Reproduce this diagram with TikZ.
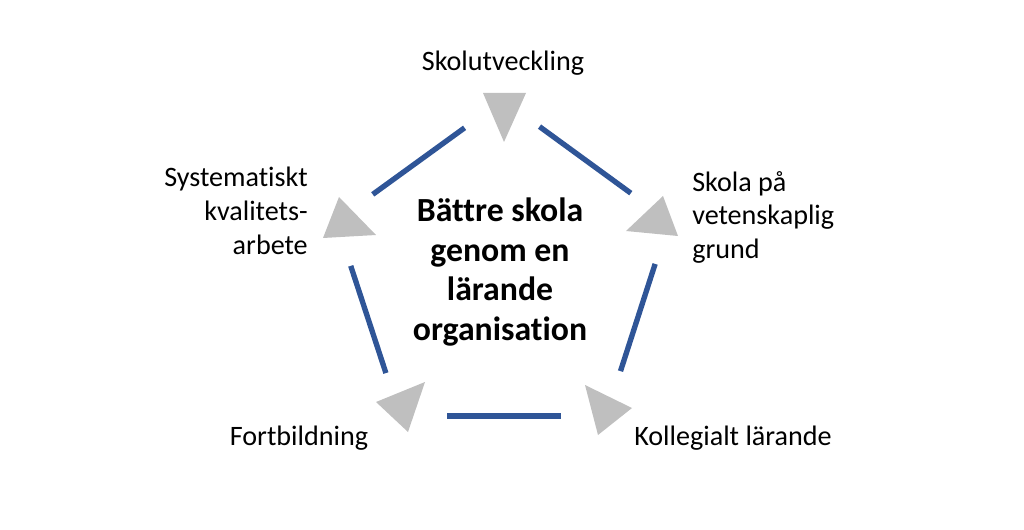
\documentclass[tikz,border=0pt]{standalone}
\usepackage{fontspec}
\setmainfont[Ligatures=NoCommon]{Carlito}
\usetikzlibrary{calc}
\definecolor{sideblue}{HTML}{2F5597}
\definecolor{tipgray}{HTML}{BFBFBF}
\tikzset{
  side/.style={draw=sideblue,line width=3.8pt},
  tip/.style={fill=tipgray},
  stage/.style={inner sep=0pt,font=\fontsize{20}{24}\selectfont},
  core/.style={inner sep=0pt,align=center,font=\bfseries\fontsize{24}{28}\selectfont}
}
\begin{document}
\begin{tikzpicture}[x=0.025cm,y=-0.025cm]
      \useasboundingbox (0,0) rectangle (1024,530);
      \begin{scope}[shift={(0,0)}]
        % corners of the pentagon
        \coordinate (v1) at (503,100);
        \coordinate (v2) at (669,221);
        \coordinate (v3) at (606,416);
        \coordinate (v4) at (400,416);
        \coordinate (v5) at (336,221);
        \foreach \a/\b in {v5/v1,v1/v2,v2/v3,v3/v4,v4/v5}{
            \draw[side]($(\a)!0.22!(\b)$)--($(\a)!0.77!(\b)$);
          }
        % grey triangles at the corners
        \foreach \ax/\ay/\bx/\by/\cx/\cy in {
          483/93/526/93/504/142,
          663/196/678/236/626/231,
          585/385/598/435/632/408,
          425/382/408/432/376/402,
          323/238/339/197/376/235
          }{
            \fill[tip](\ax,\ay)--(\bx,\by)--(\cx,\cy)--cycle;
          }
        \node[core] (mid) at (500,272) {Bättre skola\\genom en\\lärande\\organisation};
        \node[stage,anchor=base] (top) at (503,71) {Skolutveckling};
        \node[stage,anchor=north west,align=left] (right) at (692,171) {Skola på\\vetenskaplig\\grund};
        \node[stage,anchor=base] (lowright) at (733,445) {Kollegialt lärande};
        \node[stage,anchor=base] (lowleft) at (299,445) {Fortbildning};
        \node[stage,anchor=north east,align=right] (left) at (308,167) {Systematiskt\\kvalitets-\\arbete};
      \end{scope}
    \end{tikzpicture}
\end{document}
